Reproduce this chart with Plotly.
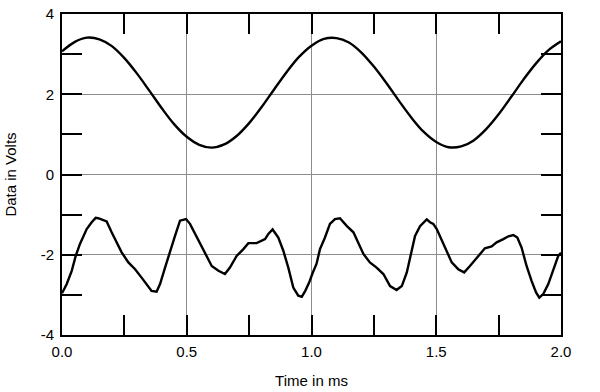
import plotly.graph_objects as go

# Upper trace (sine-like)
upper_t = [0.00, 0.05, 0.10, 0.15, 0.20, 0.25, 0.30, 0.35, 0.40, 0.45,
           0.50, 0.55, 0.60, 0.65, 0.70, 0.75, 0.80, 0.85, 0.90, 0.95,
           1.00, 1.05, 1.10, 1.15, 1.20, 1.25, 1.30, 1.35, 1.40, 1.45,
           1.50, 1.55, 1.60, 1.65, 1.70, 1.75, 1.80, 1.85, 1.90, 1.95, 2.00]
upper_v = [3.07, 3.30, 3.41, 3.37, 3.20, 2.90, 2.52, 2.09, 1.65, 1.25,
           0.94, 0.74, 0.67, 0.75, 0.96, 1.28, 1.68, 2.12, 2.55, 2.93,
           3.21, 3.38, 3.40, 3.29, 3.04, 2.69, 2.28, 1.84, 1.42, 1.06,
           0.81, 0.68, 0.70, 0.85, 1.13, 1.50, 1.93, 2.37, 2.77, 3.10, 3.32]

# Lower trace (distorted)
lower_t = [0.000, 0.019, 0.039, 0.055, 0.072, 0.099, 0.119, 0.135, 0.145, 0.159,
           0.179, 0.199, 0.219, 0.239, 0.266, 0.293, 0.319, 0.346, 0.359, 0.379,
           0.393, 0.413, 0.433, 0.453, 0.473, 0.497, 0.513, 0.533, 0.553, 0.573,
           0.600, 0.627, 0.653, 0.673, 0.700, 0.727, 0.747, 0.780, 0.814, 0.827,
           0.844, 0.867, 0.887, 0.907, 0.927, 0.947, 0.961, 0.975, 0.990, 1.005,
           1.020, 1.034, 1.054, 1.074, 1.094, 1.114, 1.141, 1.168, 1.188, 1.208,
           1.234, 1.261, 1.288, 1.315, 1.341, 1.362, 1.382, 1.399, 1.415, 1.435,
           1.462, 1.475, 1.488, 1.502, 1.522, 1.542, 1.562, 1.588, 1.612, 1.635,
           1.669, 1.695, 1.722, 1.742, 1.769, 1.789, 1.809, 1.825, 1.842, 1.862,
           1.882, 1.900, 1.913, 1.929, 1.949, 1.969, 1.989, 2.000]
lower_v = [-2.96, -2.73, -2.40, -2.03, -1.73, -1.36, -1.19, -1.08, -1.09, -1.12,
           -1.17, -1.44, -1.69, -1.94, -2.19, -2.36, -2.57, -2.78, -2.90, -2.92,
           -2.73, -2.32, -1.90, -1.53, -1.15, -1.11, -1.23, -1.48, -1.73, -1.98,
           -2.28, -2.40, -2.48, -2.32, -2.03, -1.86, -1.71, -1.71, -1.61, -1.48,
           -1.37, -1.57, -1.90, -2.32, -2.82, -3.02, -3.05, -2.90, -2.70, -2.45,
           -2.23, -1.86, -1.57, -1.23, -1.11, -1.09, -1.28, -1.44, -1.69, -1.98,
           -2.19, -2.32, -2.48, -2.78, -2.88, -2.78, -2.44, -1.98, -1.53, -1.29,
           -1.12, -1.19, -1.23, -1.36, -1.65, -1.94, -2.19, -2.36, -2.44, -2.28,
           -2.03, -1.84, -1.79, -1.69, -1.61, -1.54, -1.51, -1.57, -1.82, -2.28,
           -2.65, -2.94, -3.07, -2.98, -2.73, -2.40, -2.03, -1.95]

x_tickvals = [0.0, 0.5, 1.0, 1.5, 2.0]
x_ticktext = ["0.0", "0.5", "1.0", "1.5", "2.0"]
y_tickvals = [-4, -2, 0, 2, 4]
y_ticktext = ["-4", "-2", "0", "2", "4"]

FONT = "Liberation Sans, Arial, sans-serif"

fig = go.Figure()
fig.add_trace(go.Scatter(x=upper_t, y=upper_v, mode="lines",
                         line=dict(color="black", width=2.4, shape="spline"),
                         showlegend=False, hoverinfo="skip"))
fig.add_trace(go.Scatter(x=lower_t, y=lower_v, mode="lines",
                         line=dict(color="black", width=2.4),
                         showlegend=False, hoverinfo="skip"))

axis_common = dict(
    showline=True, linecolor="black", linewidth=2, mirror="ticks",
    ticks="inside", ticklen=20, tickwidth=1.5, tickcolor="black",
    showgrid=True, gridcolor="#8c8c8c", gridwidth=1,
    zeroline=False, automargin=False,
    tickfont=dict(family=FONT, size=15, color="black"),
)

fig.update_xaxes(range=[0, 2.0], tickmode="array", tickvals=x_tickvals,
                 ticktext=x_ticktext,
                 minor=dict(tick0=0, dtick=0.25, ticks="inside", ticklen=20,
                            tickwidth=1.5, tickcolor="black", showgrid=False),
                 title=dict(text="Time in ms", standoff=16,
                            font=dict(family=FONT, size=15, color="black")),
                 ticklabelstandoff=2,
                 **axis_common)
fig.update_yaxes(range=[-4, 4], tickmode="array", tickvals=y_tickvals,
                 ticktext=y_ticktext,
                 minor=dict(tick0=0, dtick=1, ticks="inside", ticklen=20,
                            tickwidth=1.5, tickcolor="black", showgrid=False),
                 title=dict(text="Data in Volts", standoff=20,
                            font=dict(family=FONT, size=15, color="black")),
                 ticklabelstandoff=3,
                 **axis_common)

fig.update_layout(
    template="none",
    width=600, height=392,
    margin=dict(l=62, r=39, t=14, b=57, pad=0),
    paper_bgcolor="white", plot_bgcolor="white",
)

fig.write_html("out.html", config={"displayModeBar": False},
               post_script="document.body.style.margin='0';document.body.style.overflow='hidden';")
